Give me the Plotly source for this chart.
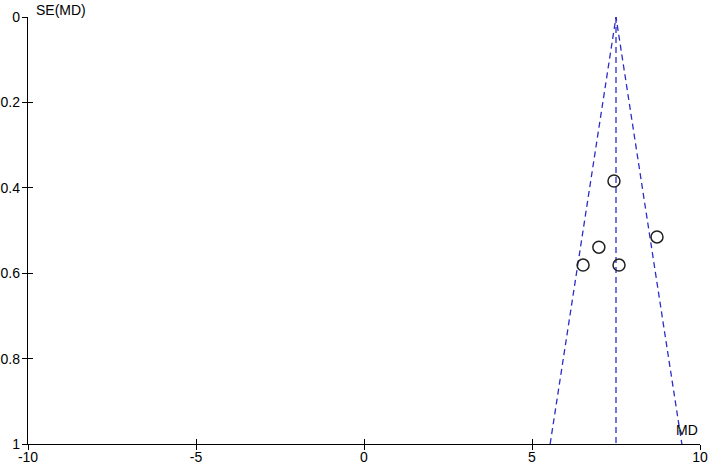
import plotly.graph_objects as go

# Study data
md = [7.44, 8.72, 6.99, 6.52, 7.59]
se = [0.384, 0.515, 0.539, 0.581, 0.581]
pooled_md = 7.5
se_max = 1.0
z = 1.96

x_ticks = [-10, -5, 0, 5, 10]
x_tick_labels = ["-10", "-5", "0", "5", "10"]
y_ticks = [0, 0.2, 0.4, 0.6, 0.8, 1]
y_tick_labels = ["0", "0.2", "0.4", "0.6", "0.8", "1"]

blue = "#2c2cc8"
font = dict(family="Liberation Sans, Arial, sans-serif", size=14, color="black")

fig = go.Figure()
fig.add_trace(go.Scatter(
    x=[pooled_md - z * se_max, pooled_md, pooled_md + z * se_max],
    y=[se_max, 0, se_max],
    mode="lines", line=dict(color=blue, width=1.3, dash="6px,4px"),
    hoverinfo="skip", showlegend=False))
fig.add_trace(go.Scatter(
    x=[pooled_md, pooled_md], y=[0, se_max],
    mode="lines", line=dict(color=blue, width=1.3, dash="6px,4px"),
    hoverinfo="skip", showlegend=False))
fig.add_trace(go.Scatter(
    x=md, y=se, mode="markers",
    marker=dict(symbol="circle-open", size=12, color="#222222", line=dict(width=1.5)),
    showlegend=False))

axis_common = dict(showgrid=False, zeroline=False, showline=True, linecolor="black",
                   linewidth=1.3, ticklen=5, tickwidth=1.2, tickcolor="black",
                   automargin=False)

fig.update_layout(
    width=708, height=464,
    margin=dict(l=28, r=8, t=17, b=20, autoexpand=False),
    paper_bgcolor="white", plot_bgcolor="white",
    font=font,
    xaxis=dict(range=[-10, 10], tickvals=x_ticks, ticktext=x_tick_labels,
               ticks="inside", **axis_common),
    yaxis=dict(range=[1, 0], tickvals=y_ticks, ticktext=y_tick_labels,
               ticks="inside", ticklabelstandoff=4, **axis_common),
    xaxis2=dict(range=[-10, 10], tickvals=x_ticks, ticks="outside", overlaying="x",
                showticklabels=False, **axis_common),
    yaxis2=dict(range=[1, 0], tickvals=y_ticks, ticks="outside", overlaying="y",
                showticklabels=False, **axis_common),
    annotations=[
        dict(text="SE(MD)", xref="paper", yref="paper", x=0, y=1, xanchor="left",
             yanchor="bottom", xshift=6, yshift=-3, showarrow=False, font=font),
        dict(text="MD", xref="paper", yref="paper", x=1, y=0, xanchor="right",
             yanchor="bottom", xshift=0, yshift=4, showarrow=False, font=font),
    ],
)
# invisible trace to activate overlay axes
fig.add_trace(go.Scatter(x=[0], y=[0], xaxis="x2", yaxis="y2", mode="markers",
                         marker=dict(opacity=0), hoverinfo="skip", showlegend=False))

fig.write_html("out.html", config={"displayModeBar": False},
               post_script="document.body.style.margin='0';document.body.style.overflow='hidden';")
